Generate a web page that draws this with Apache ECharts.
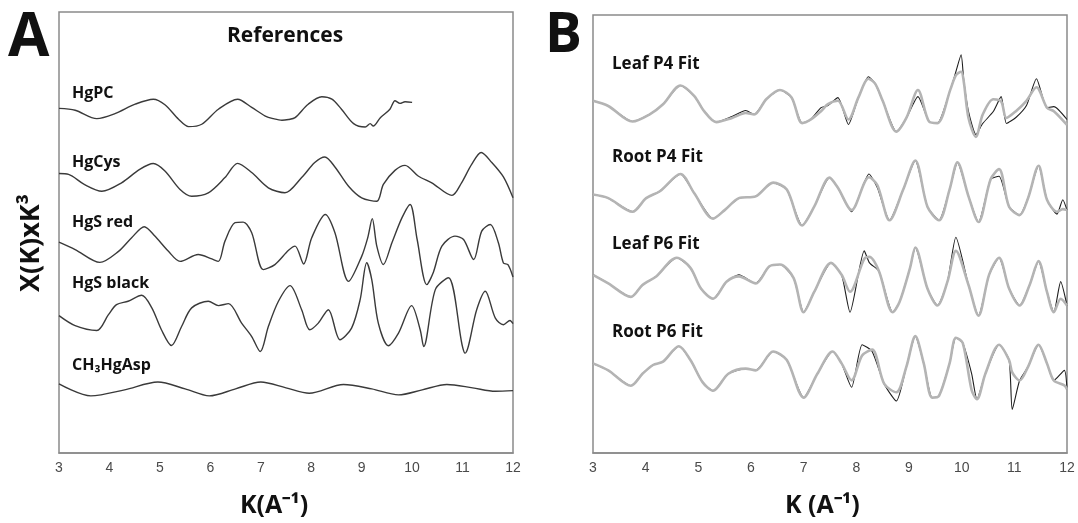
<!DOCTYPE html>
<html><head><meta charset="utf-8">
<script src="https://cdn.jsdelivr.net/npm/echarts@6/dist/echarts.min.js"></script>
<style>html,body{margin:0;padding:0;background:#fff}#c{width:1078px;height:523px}</style>
</head><body><div id="c"></div>
<script>
// ---------- X ticks ----------
const kTicks = [3,4,5,6,7,8,9,10,11,12];

// ---------- Panel A : references (k, deviation from baseline) ----------
const hgpcK   = [3,3.32,3.75,4.11,4.51,4.87,5.1,5.37,5.57,5.83,6.16,6.54,6.82,7.09,7.25,7.42,7.55,7.68,7.94,8.21,8.41,8.6,8.84,9.07,9.17,9.23,9.37,9.56,9.66,9.76,9.86,10.0];
const hgpcV   = [0.19,0.10,-0.32,-0.07,0.40,0.65,0.37,-0.35,-0.72,-0.60,0.15,0.65,0.24,-0.19,-0.32,-0.40,-0.36,-0.27,0.40,0.77,0.65,0.15,-0.57,-0.74,-0.57,-0.69,-0.27,0.15,0.57,0.44,0.52,0.49];
const hgcysK  = [3,3.19,3.5,3.85,4.24,4.6,4.87,5.1,5.4,5.63,5.96,6.29,6.54,6.82,7.15,7.48,7.81,8.07,8.27,8.47,8.74,9.0,9.3,9.43,9.66,9.86,10.12,10.39,10.79,10.98,11.18,11.37,11.58,11.81,12];
const hgcysV  = [0.29,0.25,-0.25,-0.59,-0.17,0.50,0.79,0.42,-0.50,-0.84,-0.67,0.09,0.80,0.34,-0.42,-0.67,0.09,0.84,1.12,0.62,-0.34,-0.92,-1.09,-0.25,0.45,0.70,0.17,-0.17,-0.80,-0.17,0.75,1.34,0.84,0.12,-0.92];
const hgsRedK = [3,3.32,3.81,4.18,4.44,4.69,4.9,5.17,5.4,5.76,6.03,6.16,6.29,6.49,6.65,6.82,7.05,7.28,7.55,7.68,7.85,8.01,8.28,8.47,8.74,9.0,9.12,9.21,9.3,9.43,9.6,9.8,9.96,10.1,10.29,10.42,10.59,10.85,11.02,11.22,11.38,11.55,11.71,11.81,11.9,12];
const hgsRedV = [0.37,0,-0.64,-0.09,0.59,1.14,0.67,-0.09,-0.59,-0.25,-0.47,-0.59,0.42,1.34,1.37,0.84,-1.00,-0.75,-0.04,0.17,-0.72,0.59,1.75,0.84,-1.59,-0.34,0.59,1.54,0.17,-0.75,0.34,1.59,2.25,0.50,-1.75,-1.14,0.17,0.67,0.50,-0.50,0.92,1.25,0.34,-0.67,-0.75,-1.37];
const hgsBlkK = [3,3.32,3.75,3.98,4.14,4.37,4.64,4.84,5.03,5.23,5.43,5.63,5.96,6.16,6.36,6.62,6.82,6.99,7.15,7.35,7.58,7.81,7.97,8.14,8.34,8.57,8.8,8.97,9.1,9.2,9.33,9.53,9.73,9.99,10.16,10.23,10.46,10.72,10.99,11.05,11.28,11.45,11.65,11.81,11.94,12];
const hgsBlkV = [0.10,-0.40,-0.64,0.15,0.65,0.82,1.12,0.49,-0.60,-1.39,-0.44,0.49,0.82,0.60,0.70,-0.27,-0.94,-1.69,-0.44,0.82,1.60,0.40,-0.60,-0.27,0.40,-1.10,-0.52,0.90,2.74,1.90,-0.27,-1.40,-0.77,0.60,-0.60,-1.44,1.40,1.99,-1.35,-1.77,0.40,1.32,-0.02,-0.35,-0.14,-0.30];
const ch3K    = [3,3.63,4.3,4.96,5.5,5.98,6.5,7.0,7.5,7.96,8.64,9.2,9.73,10.2,10.69,11.2,11.65,12];
const ch3V    = [0.25,-0.35,-0.05,0.34,0.0,-0.35,0.0,0.34,0.05,-0.22,0.22,0.0,-0.30,-0.05,0.22,0.05,-0.12,-0.09];
const refNames   = ['HgPC','HgCys','HgS red','HgS black','CH\u2083HgAsp'];
const refOffsets = [17.0,13.65,10.15,6.75,3.2];

// ---------- Panel B : sample data (black) and fits (grey) ----------
const lp4K   = [3,3.29,3.75,4.07,4.33,4.66,4.92,5.11,5.34,5.64,5.9,6.06,6.29,6.55,6.77,6.97,7.13,7.33,7.46,7.65,7.85,8.04,8.23,8.36,8.5,8.76,8.95,9.17,9.38,9.54,9.79,9.89,9.99,10.04,10.13,10.27,10.4,10.6,10.75,10.85,11.03,11.23,11.42,11.62,11.75,12];
const lp4D   = [0.29,0.03,-0.75,-0.40,0.12,1.06,0.54,-0.23,-0.78,-0.50,-0.20,-0.40,0.37,0.83,0.46,-0.83,-0.66,-0.05,0.05,0.45,-0.90,0.46,1.50,1.14,0.29,-1.26,-0.57,0.50,-0.75,-0.83,0.89,1.75,2.60,1.31,-0.25,-1.40,-0.85,-0.25,0.50,-0.85,-0.55,0.05,1.40,-0.06,0.00,-0.65];
const lp4F   = [0.29,0.03,-0.75,-0.40,0.12,1.06,0.54,-0.23,-0.78,-0.57,-0.32,-0.40,0.37,0.83,0.46,-0.83,-0.66,-0.23,0.12,0.29,-0.65,0.46,1.40,1.14,0.29,-1.26,-0.57,0.83,-0.75,-0.83,0.89,1.57,1.75,1.25,-0.57,-1.52,-0.40,0.37,0.25,-0.57,-0.23,0.29,0.97,-0.06,-0.23,-0.92];
const rp4K   = [3,3.29,3.75,4.01,4.27,4.66,4.92,5.28,5.5,5.77,6.09,6.42,6.68,6.97,7.2,7.49,7.65,7.91,8.24,8.4,8.63,8.89,9.12,9.35,9.57,9.77,9.92,10.13,10.32,10.55,10.71,10.9,11.1,11.26,11.46,11.62,11.81,11.92,12];
const rp4D   = [0.08,-0.10,-0.78,-0.10,0.25,1.11,0.16,-1.13,-0.70,-0.10,-0.01,0.68,0.33,-1.47,-0.53,0.93,0.42,-0.78,1.11,0.42,-1.21,0.33,1.79,-0.53,-1.21,0.33,1.70,-0.01,-1.30,0.85,1.00,-0.53,-0.95,-0.10,1.53,-0.18,-0.90,-0.18,-0.70];
const rp4F   = [0.08,-0.10,-0.78,-0.10,0.25,1.11,0.16,-1.13,-0.70,-0.10,-0.01,0.68,0.33,-1.47,-0.53,0.93,0.42,-0.70,0.95,0.55,-1.21,0.33,1.79,-0.53,-1.21,0.33,1.70,-0.01,-1.30,0.85,1.36,-0.53,-0.95,-0.10,1.53,-0.18,-0.78,-0.65,-0.70];
const lp6K   = [3,3.29,3.72,3.94,4.2,4.59,4.85,5.05,5.28,5.54,5.77,6.09,6.35,6.55,6.81,7.0,7.2,7.52,7.72,7.88,8.15,8.25,8.43,8.69,8.82,9.02,9.12,9.35,9.54,9.73,9.89,10.13,10.32,10.52,10.71,10.9,11.1,11.29,11.46,11.62,11.75,11.88,12];
const lp6D   = [0.40,-0.03,-0.71,-0.11,0.32,1.26,0.75,-0.29,-0.80,0.06,0.40,-0.03,0.83,0.92,0.23,-1.48,-0.46,1.00,0.40,-1.48,1.60,1.00,0.58,-1.48,-0.97,0.75,1.77,-0.29,-1.14,0.06,2.29,-0.11,-1.65,0.40,1.26,-0.29,-1.14,-0.11,1.09,-0.46,-1.48,0.06,-1.14];
const lp6F   = [0.40,-0.03,-0.71,-0.11,0.32,1.26,0.75,-0.29,-0.80,0.06,0.32,-0.03,0.83,0.92,0.23,-1.48,-0.46,1.00,0.40,-0.45,1.20,1.30,0.58,-1.48,-0.97,0.75,1.77,-0.29,-1.14,0.06,1.60,-0.11,-1.65,0.40,1.26,-0.29,-1.14,-0.11,1.09,-0.46,-1.48,-0.80,-1.14];
const rp6K   = [3,3.29,3.72,3.94,4.14,4.33,4.63,4.85,5.08,5.28,5.57,5.9,6.09,6.42,6.68,7.0,7.26,7.55,7.72,7.91,8.11,8.3,8.53,8.76,8.95,9.12,9.28,9.44,9.57,9.77,9.89,10.02,10.19,10.29,10.45,10.71,10.9,10.96,11.1,11.26,11.46,11.62,11.75,11.95,12];
const rp6D   = [0.25,-0.10,-0.87,-0.27,0.17,0.34,1.11,0.42,-0.69,-1.12,-0.27,-0.01,-0.10,0.85,0.42,-1.47,-0.27,0.85,0.25,-0.95,1.19,0.85,-0.78,-1.64,0.08,1.62,0.25,-1.47,-1.38,0.25,1.54,1.28,-0.27,-1.55,-0.27,1.19,0.42,-2.06,-0.61,0.08,1.19,0.25,-0.61,-0.10,-1.04];
const rp6F   = [0.25,-0.10,-0.87,-0.27,0.17,0.34,1.11,0.42,-0.69,-1.12,-0.27,-0.01,-0.10,0.85,0.42,-1.47,-0.27,0.85,0.25,-0.60,0.65,0.94,-0.78,-1.20,0.08,1.62,0.25,-1.47,-1.38,0.25,1.54,1.28,-1.10,-1.55,-0.27,1.19,0.42,-0.20,-0.61,0.08,1.19,0.25,-0.61,-0.85,-1.04];
const fitNames   = ['Leaf P4 Fit','Root P4 Fit','Leaf P6 Fit','Root P6 Fit'];
const fitOffsets = [17.4,12.9,8.55,4.25];

// ---------- build ----------
const pair = (ks, vs, off) => ks.map((k, i) => [k, +(off + vs[i]).toFixed(3)]);
const refSets = [[hgpcK,hgpcV],[hgcysK,hgcysV],[hgsRedK,hgsRedV],[hgsBlkK,hgsBlkV],[ch3K,ch3V]];
const fitSets = [[lp4K,lp4D,lp4F],[rp4K,rp4D,rp4F],[lp6K,lp6D,lp6F],[rp6K,rp6D,rp6F]];

const series = [];
refSets.forEach((s, i) => series.push({
  name: refNames[i], type: 'line', xAxisIndex: 0, yAxisIndex: 0,
  data: pair(s[0], s[1], refOffsets[i]), showSymbol: false, smooth: 0.3,
  lineStyle: { color: '#3a3a3a', width: 1.4 }, z: 3
}));
fitSets.forEach((s, i) => {
  series.push({ name: fitNames[i] + ' data', type: 'line', xAxisIndex: 1, yAxisIndex: 1,
    data: pair(s[0], s[1], fitOffsets[i]), showSymbol: false, smooth: 0.2,
    lineStyle: { color: '#1e1e1e', width: 1.1 }, z: 3 });
  series.push({ name: fitNames[i], type: 'line', xAxisIndex: 1, yAxisIndex: 1,
    data: pair(s[0], s[2], fitOffsets[i]), showSymbol: false, smooth: 0.3,
    lineStyle: { color: '#b4b4b4', width: 2.6 }, z: 4 });
});

const xAxisBase = (gi) => ({
  gridIndex: gi, type: 'value', min: kTicks[0], max: kTicks[kTicks.length - 1], interval: 1,
  axisLine: { show: true, lineStyle: { color: '#8a8a8a', width: 1.5 } },
  axisTick: { show: false }, splitLine: { show: false },
  axisLabel: { color: '#4a4a4a', fontSize: 14, margin: 8, fontFamily: 'Liberation Sans',
    formatter: v => kTicks.includes(v) ? String(v) : '' }
});
const yAxisBase = (gi) => ({
  gridIndex: gi, type: 'value', min: 0, max: 22, show: false, splitLine: { show: false }
});

const bold = (txt, x, y, size, extra) => Object.assign({
  type: 'text', left: x, top: y,
  style: { text: txt, font: 'bold ' + size + 'px "Open Sans", sans-serif', fill: '#111' }
}, extra || {});

const graphics = [
  bold('A', 8, 9, 60),
  bold('B', 545, 9, 55),
  bold('References', 227, 26, 21),
  bold('K(A\u207B\u00B9)', 240, 493, 25),
  bold('K (A\u207B\u00B9)', 785, 493, 25),
  { type: 'text', x: 31, y: 243, rotation: Math.PI / 2,
    style: { text: 'X(K)xK\u00B3', font: 'bold 27px "Open Sans", sans-serif', fill: '#111',
      align: 'center', verticalAlign: 'middle' } }
];
const refLabelY = [85, 154, 214, 275, 357];
refNames.forEach((n, i) => graphics.push(bold(n, 72, refLabelY[i], 16)));
const fitLabelY = [56, 149, 236, 324];
fitNames.forEach((n, i) => graphics.push(bold(n, 612, fitLabelY[i], 17)));

const chart = echarts.init(document.getElementById('c'), null, { renderer: 'canvas' });
chart.setOption({
  animation: false,
  backgroundColor: '#fff',
  grid: [
    { left: 59, top: 12, width: 454, height: 441, show: true, borderColor: '#8a8a8a', borderWidth: 1.5, backgroundColor: 'transparent' },
    { left: 593, top: 15, width: 474, height: 438, show: true, borderColor: '#8a8a8a', borderWidth: 1.5, backgroundColor: 'transparent' }
  ],
  xAxis: [xAxisBase(0), xAxisBase(1)],
  yAxis: [yAxisBase(0), yAxisBase(1)],
  series: series,
  graphic: graphics
});
</script></body></html>
